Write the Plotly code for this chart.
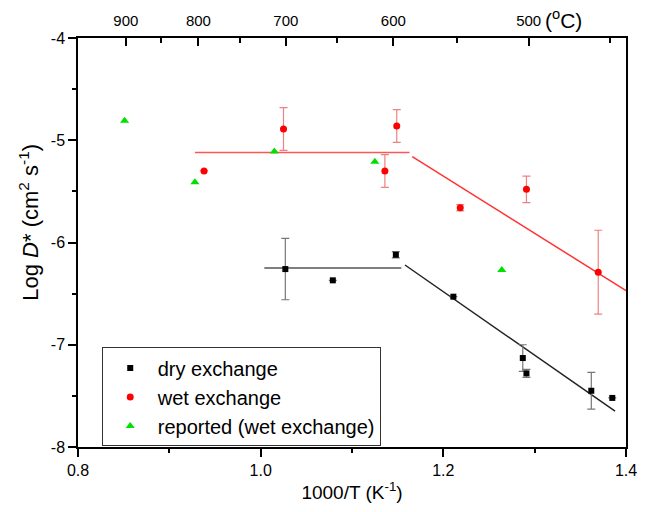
import plotly.graph_objects as go

# ---- data ----
dry_x = [1.027, 1.079, 1.148, 1.211, 1.287, 1.291, 1.362, 1.385]
dry_y = [-6.26, -6.37, -6.12, -6.53, -7.13, -7.28, -7.45, -7.52]
dry_err = [0.30, 0.0, 0.03, 0.0, 0.13, 0.04, 0.18, 0.0]

wet_x = [0.938, 1.025, 1.136, 1.149, 1.2185, 1.291, 1.3696]
wet_y = [-5.30, -4.89, -5.30, -4.86, -5.66, -5.48, -6.29]
wet_err = [0.0, 0.21, 0.16, 0.16, 0.03, 0.13, 0.41]

rep_x = [0.851, 0.928, 1.015, 1.125, 1.264]
rep_y = [-4.81, -5.41, -5.11, -5.21, -6.27]

dry_fit1_x = [1.004, 1.154]
dry_fit1_y = [-6.25, -6.25]
dry_fit2_x = [1.158, 1.388]
dry_fit2_y = [-6.22, -7.65]

wet_fit1_x = [0.928, 1.163]
wet_fit1_y = [-5.12, -5.12]
wet_fit2_x = [1.166, 1.40]
wet_fit2_y = [-5.16, -6.47]

x_ticks = [0.8, 1.0, 1.2, 1.4]
x_ticklabels = ["0.8", "1.0", "1.2", "1.4"]
y_ticks = [-8, -7, -6, -5, -4]
y_ticklabels = ["-8", "-7", "-6", "-5", "-4"]
top_temps = [900, 800, 700, 600, 500]
top_minor_temps = [850, 750, 650, 550, 450]

FONT = "Arial, Liberation Sans, sans-serif"

fig = go.Figure()

# fit lines
for fx, fy, col in [(dry_fit1_x, dry_fit1_y, "#555555"), (dry_fit2_x, dry_fit2_y, "#222222"),
                    (wet_fit1_x, wet_fit1_y, "#ff5555"), (wet_fit2_x, wet_fit2_y, "#ff3333")]:
    fig.add_trace(go.Scatter(x=fx, y=fy, mode="lines", line=dict(color=col, width=1.5),
                             showlegend=False, hoverinfo="skip"))

fig.add_trace(go.Scatter(
    x=dry_x, y=dry_y, mode="markers", name="dry exchange",
    marker=dict(symbol="square", color="black", size=6),
    error_y=dict(type="data", array=dry_err, color="#777777", thickness=1.2, width=4)))

fig.add_trace(go.Scatter(
    x=wet_x, y=wet_y, mode="markers", name="wet exchange",
    marker=dict(symbol="circle", color="#ff0000", size=7),
    error_y=dict(type="data", array=wet_err, color="#f08080", thickness=1.2, width=4)))

fig.add_trace(go.Scatter(
    x=rep_x, y=rep_y, mode="markers", name="reported (wet exchange)",
    marker=dict(symbol="triangle-up", color="#00e000", size=8)))

# invisible trace for top axis
fig.add_trace(go.Scatter(x=[0.8, 1.4], y=[-8, -8], xaxis="x2", mode="markers",
                         marker=dict(opacity=0), showlegend=False, hoverinfo="skip"))

fig.update_layout(
    width=649, height=512,
    margin=dict(l=78, r=17, t=37, b=60),
    paper_bgcolor="white", plot_bgcolor="white",
    font=dict(family=FONT, color="black", size=15),
    xaxis=dict(range=[0.8, 1.4], tickvals=x_ticks, ticktext=x_ticklabels,
               ticks="outside", ticklen=8, tickwidth=1.5, tickcolor="black",
               minor=dict(tickvals=[0.9, 1.1, 1.3], ticks="outside", ticklen=4, tickwidth=1.5, tickcolor="black"),
               showline=True, linecolor="black", linewidth=1.5, mirror=True,
               showgrid=False, zeroline=False,
               tickfont=dict(size=16),
               title=dict(text="1000/T (K<sup>-1</sup>)", font=dict(size=19), standoff=8)),
    xaxis2=dict(overlaying="x", side="top", range=[0.8, 1.4],
                tickvals=[1000.0 / (t + 273.15) for t in top_temps],
                ticktext=[str(t) for t in top_temps],
                ticks="inside", ticklen=8, tickwidth=1.5, tickcolor="black",
                minor=dict(tickvals=[1000.0 / (t + 273.15) for t in top_minor_temps],
                           ticks="inside", ticklen=5, tickwidth=1.5, tickcolor="black"),
                showline=True, linecolor="black", linewidth=1.5, ticklabelstandoff=4,
                showgrid=False, zeroline=False, tickfont=dict(size=15)),
    yaxis=dict(range=[-8, -4], tickvals=y_ticks, ticktext=y_ticklabels,
               ticks="outside", ticklen=8, tickwidth=1.5, tickcolor="black",
               minor=dict(tickvals=[-7.5, -6.5, -5.5, -4.5], ticks="outside", ticklen=4, tickwidth=1.5, tickcolor="black"),
               showline=True, linecolor="black", linewidth=1.5, mirror=True,
               showgrid=False, zeroline=False, tickfont=dict(size=16)),
    legend=dict(x=0.0433, y=0.2434, xanchor="left", yanchor="top",
                bordercolor="#333333", borderwidth=1, bgcolor="white",
                font=dict(size=20), tracegroupgap=0, itemwidth=45),
    annotations=[
        dict(text="(<sup>o</sup>C)", x=0.848, y=1.0, xref="paper", yref="paper", yshift=4,
             xanchor="left", yanchor="bottom", showarrow=False, font=dict(size=21)),
        dict(text="Log <i>D</i>* (cm<sup>2</sup> s<sup>-1</sup>)", x=-0.09, y=0.55,
             xref="paper", yref="paper", xanchor="center", yanchor="middle",
             textangle=-90, showarrow=False, font=dict(size=22)),
    ],
)

fig.write_html("out.html")
